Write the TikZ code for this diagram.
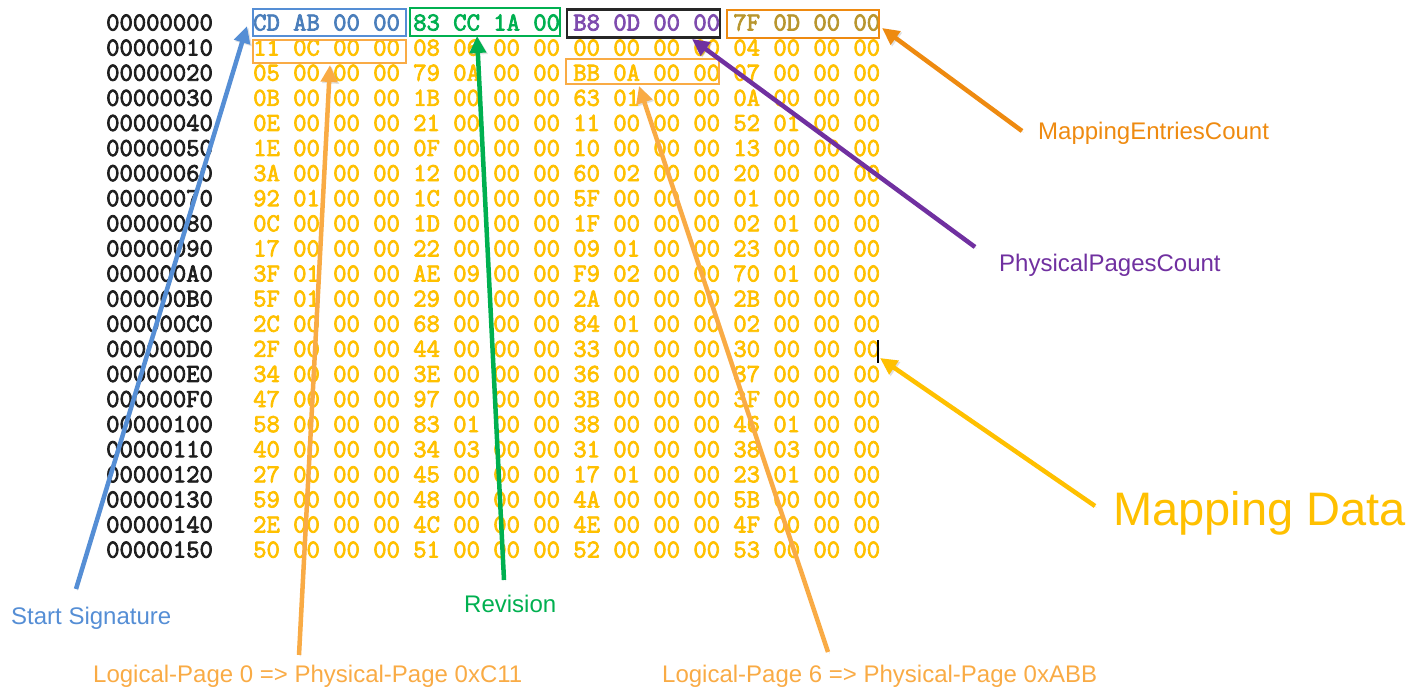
\documentclass[tikz,border=0pt]{standalone}
\usepackage{fontspec}
\setmainfont{Liberation Sans}
\newfontfamily\hexfont{Latin Modern Mono}[FakeBold=3]
\usetikzlibrary{arrows.meta}

\definecolor{sigblue}{HTML}{558ED5}
\definecolor{sigtext}{HTML}{4A7EBB}
\definecolor{revgreen}{HTML}{00B050}
\definecolor{pagepurple}{HTML}{7030A0}
\definecolor{pagetext}{HTML}{7E4BAE}
\definecolor{countorange}{HTML}{EE8A10}
\definecolor{counttext}{HTML}{B8962E}
\definecolor{maplight}{HTML}{F9AB45}
\definecolor{mapyellow}{HTML}{FFC000}
\definecolor{addrgray}{HTML}{1E1E1E}

\tikzset{
  hexcell/.style={font=\hexfont\fontsize{25.9}{28}\selectfont,
    inner sep=0pt, anchor=base west, text=mapyellow},
  addrcell/.style={hexcell, text=addrgray},
  markbox/.style={draw, line width=2.4pt, inner sep=0pt, fill=none},
  notetext/.style={font=\fontsize{24}{28}\selectfont, inner sep=0pt, anchor=base west},
  callout/.style={line width=4.5pt, -{Triangle[length=17pt,width=16pt]},
    preaction={draw=black!40, opacity=0.3,
      transform canvas={shift={(1.5pt,-1.5pt)}}}},
}

\begin{document}
\begin{tikzpicture}[x=1pt, y=-1pt]
\useasboundingbox (0,0) rectangle (1412,687);

% hex dump: first line with coloured header fields
\node[addrcell] (a0) at (106,30.5) {00000000};
\node[hexcell] (h0) at (253,30.5)
  {\color{sigtext}CD AB 00 00 \color{revgreen}83 CC 1A 00 \color{pagetext}B8 0D 00 00 \color{counttext}7F 0D 00 00};

% remaining lines of the dump
\foreach \addr/\bytes [count=\i] in {
  00000010/{11 0C 00 00 08 06 00 00 00 00 00 00 04 00 00 00},
  00000020/{05 00 00 00 79 0A 00 00 BB 0A 00 00 07 00 00 00},
  00000030/{0B 00 00 00 1B 00 00 00 63 01 00 00 0A 00 00 00},
  00000040/{0E 00 00 00 21 00 00 00 11 00 00 00 52 01 00 00},
  00000050/{1E 00 00 00 0F 00 00 00 10 00 00 00 13 00 00 00},
  00000060/{3A 00 00 00 12 00 00 00 60 02 00 00 20 00 00 00},
  00000070/{92 01 00 00 1C 00 00 00 5F 00 00 00 01 00 00 00},
  00000080/{0C 00 00 00 1D 00 00 00 1F 00 00 00 02 01 00 00},
  00000090/{17 00 00 00 22 00 00 00 09 01 00 00 23 00 00 00},
  000000A0/{3F 01 00 00 AE 09 00 00 F9 02 00 00 70 01 00 00},
  000000B0/{5F 01 00 00 29 00 00 00 2A 00 00 00 2B 00 00 00},
  000000C0/{2C 00 00 00 68 00 00 00 84 01 00 00 02 00 00 00},
  000000D0/{2F 00 00 00 44 00 00 00 33 00 00 00 30 00 00 00},
  000000E0/{34 00 00 00 3E 00 00 00 36 00 00 00 37 00 00 00},
  000000F0/{47 00 00 00 97 00 00 00 3B 00 00 00 3F 00 00 00},
  00000100/{58 00 00 00 83 01 00 00 38 00 00 00 46 01 00 00},
  00000110/{40 00 00 00 34 03 00 00 31 00 00 00 38 03 00 00},
  00000120/{27 00 00 00 45 00 00 00 17 01 00 00 23 01 00 00},
  00000130/{59 00 00 00 48 00 00 00 4A 00 00 00 5B 00 00 00},
  00000140/{2E 00 00 00 4C 00 00 00 4E 00 00 00 4F 00 00 00},
  00000150/{50 00 00 00 51 00 00 00 52 00 00 00 53 00 00 00}}
{
  \node[addrcell] (a\i) at ({106},{30.5+25.1*\i}) {\addr};
  \node[hexcell] (h\i) at ({253},{30.5+25.1*\i}) {\bytes};
}

% field frames
\node[markbox, draw=sigblue, minimum width=153pt, minimum height=27pt] (sigbox) at (329.5,22.5) {};
\node[markbox, draw=revgreen, minimum width=150pt, minimum height=28pt] (revbox) at (485,22) {};
\node[markbox, draw=black!85, minimum width=153pt, minimum height=28pt] (ppbox) at (643.5,23.7) {};
\node[markbox, draw=countorange, minimum width=152pt, minimum height=28pt] (mecbox) at (803,24) {};
\node[markbox, draw=maplight, minimum width=153pt, minimum height=23pt] (lp0box) at (329.5,51.5) {};
\node[markbox, draw=maplight, minimum width=153pt, minimum height=25pt] (lp6box) at (642.7,71.8) {};

% text cursor
\coordinate (curtop) at (878,340);
\coordinate (curbot) at (878,363);
\draw[black, line width=1.2pt] (curtop) -- (curbot);

% captions
\node[notetext, text=sigblue] (sig) at (11,624) {Start Signature};
\node[notetext, text=revgreen] (rev) at (464,612) {Revision};
\node[notetext, text=maplight] (lp0) at (93,682) {Logical-Page 0 => Physical-Page 0xC11};
\node[notetext, text=maplight] (lp6) at (662,682) {Logical-Page 6 => Physical-Page 0xABB};
\node[notetext, text=countorange] (mec) at (1038,140) {MappingEntriesCount};
\node[notetext, text=pagepurple] (ppc) at (999,271) {PhysicalPagesCount};
\node[notetext, text=mapyellow, font=\fontsize{47}{54}\selectfont] (mdata) at (1113,525) {Mapping Data};

% arrow ends
\coordinate (sigtail) at (76,589);   \coordinate (sigtip) at (247,26);
\coordinate (revtail) at (504,580);  \coordinate (revtip) at (477,36);
\coordinate (pptail) at (975,247);   \coordinate (pptip) at (692,39);
\coordinate (mectail) at (1022,131); \coordinate (mectip) at (882,28);
\coordinate (lp0tail) at (299,655);  \coordinate (lp0tip) at (330,65);
\coordinate (lp6tail) at (828,652);  \coordinate (lp6tip) at (639,86);
\coordinate (mdtail) at (1095,506);  \coordinate (mdtip) at (880,358);

% callout arrows
\draw[callout, sigblue] (sigtail) -- (sigtip);
\draw[callout, maplight] (lp0tail) -- (lp0tip);
\draw[callout, revgreen] (revtail) -- (revtip);
\draw[callout, maplight] (lp6tail) -- (lp6tip);
\draw[callout, pagepurple] (pptail) -- (pptip);
\draw[callout, countorange] (mectail) -- (mectip);
\draw[callout, mapyellow] (mdtail) -- (mdtip);
\end{tikzpicture}
\end{document}
